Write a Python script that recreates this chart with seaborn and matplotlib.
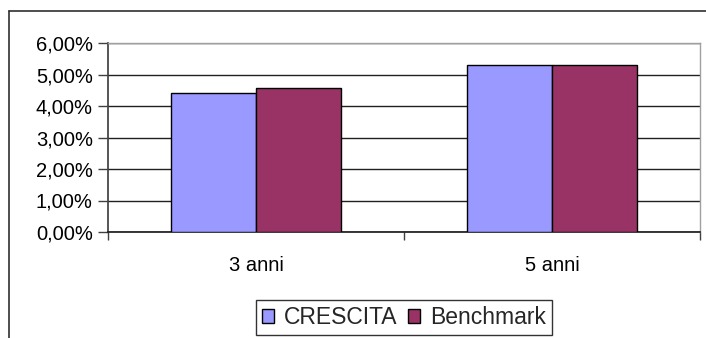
import matplotlib
matplotlib.use("Agg")
import matplotlib.pyplot as plt
import seaborn as sns
import pandas as pd
from matplotlib.patches import Patch
from matplotlib.lines import Line2D
from matplotlib.ticker import FuncFormatter, FixedLocator

# Rendimenti medi annui (%)
periodi = ["3 anni", "5 anni"]
serie = ["CRESCITA", "Benchmark"]
crescita = [4.40, 5.30]
benchmark = [4.57, 5.30]
colori = ["#9999FF", "#993366"]

df = pd.DataFrame({
    "periodo": periodi * 2,
    "serie": [serie[0]] * len(periodi) + [serie[1]] * len(periodi),
    "valore": crescita + benchmark,
})

sns.set_theme(style="white")
plt.rcParams["font.family"] = ["Liberation Sans", "DejaVu Sans"]

fig = plt.figure(figsize=(7.06, 3.38), dpi=100)
ax = fig.add_axes([108 / 706, 106 / 338, 592 / 706, 189 / 338])

sns.barplot(data=df, x="periodo", y="valore", hue="serie", order=periodi,
            hue_order=serie, palette=colori, width=0.571, gap=0,
            edgecolor="black", linewidth=1.0, saturation=1, legend=False,
            ax=ax, zorder=3)

ax.set_xlim(-0.5, 1.5)
ax.set_ylim(0, 6)
ax.set_yticks(range(0, 7))
ax.yaxis.set_major_formatter(FuncFormatter(lambda v, p: f"{v:.2f}%".replace(".", ",")))
ax.grid(axis="y", color="#202020", linewidth=1.0, zorder=0)
ax.grid(axis="x", visible=False)
ax.set_axisbelow(True)
ax.set_xlabel("")
ax.set_ylabel("")

# category boundaries carry the x ticks
ax.xaxis.set_minor_locator(FixedLocator([-0.5, 0.5, 1.5]))
ax.tick_params(axis="x", which="major", length=0, labelsize=14.5, pad=17)
ax.tick_params(axis="x", which="minor", length=6, width=1, color="#404040",
               direction="out", bottom=True)
ax.tick_params(axis="y", length=7, width=1, color="#404040", direction="out",
               left=True, labelsize=14.5, pad=4)
for lbl in ax.get_yticklabels() + ax.get_xticklabels():
    lbl.set_color("black")

for side in ["top", "right"]:
    ax.spines[side].set_color("#a0a0a0")
    ax.spines[side].set_linewidth(1.0)
ax.spines["left"].set_color("#404040")
ax.spines["bottom"].set_color("#202020")
for side in ax.spines:
    ax.spines[side].set_visible(True)

# legend below the chart
handles = [Patch(facecolor=c, edgecolor="black", linewidth=1) for c in colori]
leg = fig.legend(handles, serie, loc="center", bbox_to_anchor=(404 / 706, 20.5 / 338),
                 ncol=2, frameon=True, fancybox=False, fontsize=16.5,
                 handlelength=0.52, handleheight=0.52, handletextpad=0.44,
                 columnspacing=0.48, borderpad=0.25, borderaxespad=0)
leg.get_frame().set_edgecolor("black")
leg.get_frame().set_linewidth(1.0)

# outer chart frame (top and left edges)
fig.add_artist(Line2D([8.5 / 706, 1.0], [1 - 10.5 / 338] * 2,
                      transform=fig.transFigure, color="#303030", linewidth=1.2))
fig.add_artist(Line2D([8.5 / 706] * 2, [0.0, 1 - 10.5 / 338],
                      transform=fig.transFigure, color="#303030", linewidth=1.2))

fig.savefig("out.png", dpi=100)
